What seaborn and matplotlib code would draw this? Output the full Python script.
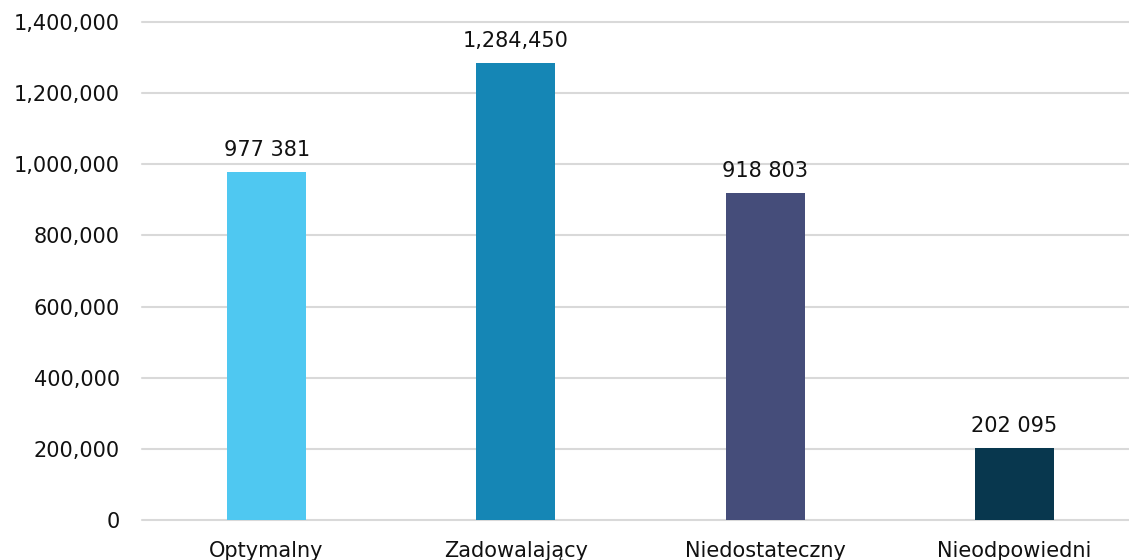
import matplotlib
matplotlib.use("Agg")
import matplotlib.pyplot as plt
import seaborn as sns
import pandas as pd
from matplotlib.ticker import FuncFormatter

categories = ["Optymalny", "Zadowalający", "Niedostateczny", "Nieodpowiedni"]
values = [977381, 1284450, 918803, 202095]
value_labels = ["977 381", "1,284,450", "918 803", "202 095"]
colors = ["#4FC8F1", "#1586B5", "#454D7A", "#08374E"]

sns.set_theme(style="white")
plt.rcParams["font.family"] = ["DejaVu Sans"]

df = pd.DataFrame({"cat": categories, "val": values})

fig = plt.figure(figsize=(11.29, 5.6), dpi=100)
ax = fig.add_axes([142/1129, 40/560, (1139-142)/1129, (520-22)/560])

sns.barplot(data=df, x="cat", y="val", hue="cat", palette=colors,
            width=0.317, legend=False, ax=ax, saturation=1, linewidth=0)

ax.set_ylim(0, 1400000)
ax.set_yticks(range(0, 1400001, 200000))
ax.yaxis.set_major_formatter(FuncFormatter(lambda v, p: f"{int(v):,}"))
ax.grid(axis="y", color="#d9d9d9", linewidth=1.5)
for gl in ax.get_ygridlines():
    gl.set_clip_on(False)
ax.set_axisbelow(True)
for s in ax.spines.values():
    s.set_visible(False)
ax.set_xlabel("")
ax.set_ylabel("")
ax.tick_params(axis="y", labelsize=15, pad=16, length=0, labelcolor="#111111")
ax.tick_params(axis="x", labelsize=15, pad=15, length=0, labelcolor="#111111")

for cont, lab in zip(ax.containers, value_labels):
    ax.bar_label(cont, labels=[lab], padding=9, fontsize=15, color="#111111")

fig.savefig("out.png", dpi=100)
